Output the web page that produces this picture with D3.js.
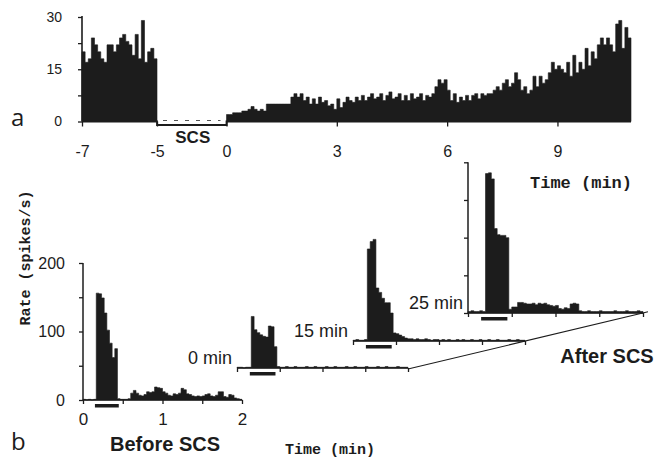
<!DOCTYPE html>
<html>
<head>
<meta charset="utf-8">
<script src="https://cdn.jsdelivr.net/npm/d3@7"></script>
<style>
  body { margin: 0; background: #fff; }
  svg { display: block; }
</style>
</head>
<body>
<svg id="fig" width="670" height="461"></svg>
<script>
// ---------- panel a: long recording, 5-s bins (spikes/s) ----------
const preScsRate = [20, 17, 18, 24, 22, 20, 18, 17, 22, 22, 20, 22,
                    24, 25, 23, 22, 19, 25, 18, 29, 17, 20, 21, 18];
const postScsRate = [
  2, 2, 2.5,
  2.5, 2.5, 3, 3,
  3.5, 4.3,
  3.5, 3, 3.5, 3,
  5, 5, 5, 5, 5, 5, 5, 5,
  7, 8, 7, 8, 6, 7,
  5, 6.5, 5, 7, 5.5, 6, 4.5, 5, 3.5,
  6.5, 4, 5.5, 7, 6, 5.5, 7, 6, 7.5, 6, 7,
  8, 6.5, 7, 8, 6, 7.5, 8.5, 6.5, 7, 8, 6, 7.5,
  6, 8, 6.5, 7, 8, 6, 7.5, 7, 8,
  10, 12, 11, 12, 9,
  6, 8, 5.5, 7, 6, 7.5, 6, 7.5, 8, 6.5, 8, 7.5,
  8, 8, 9, 10, 9, 11, 12, 10,
  11, 14, 12, 9,
  10, 8, 9, 13, 10,
  13, 11, 12, 14, 17, 15, 16,
  15, 14, 17, 13, 19, 14,
  17, 15, 21, 16, 20, 18,
  22, 24, 22, 24, 22,
  20, 28, 29, 21, 27, 24
];
const longBinMin = 5 / 60;
const preStart = -7;          // minutes
const scsStart = -5, scsEnd = 0, recordEnd = 11;
const topYTicks = [0, 7.5, 15, 22.5, 30];
const topYLabels = [0, 15, 30];
const topXTicks = [-7, -5, 0, 3, 6, 9];

// ---------- panel b: responses to a stimulus, 2-s bins (spikes/s) ----------
const beforeRate = [1, 0, 1, 0, 1,
  156, 155, 149, 127, 102, 83, 62, 75,
  2, 1, 1, 1, 2,
  10, 14, 10, 7, 6, 8, 12, 11, 12, 19,
  18, 17, 12, 10, 7, 6, 9, 8, 10, 17,
  15, 9, 8, 6, 5, 6, 5, 6, 8, 9,
  6, 5, 7, 12, 12, 5, 4, 8, 7, 3,
  2, 1];
const after0Rate = [1, 1, 0, 1, 1,
  70, 52, 48, 45, 43, 42, 57, 56, 29,
  2, 1, 1, 2, 1, 1, 2, 1, 1, 1,
  2, 1, 1, 2, 1, 1, 1, 2, 1, 1,
  2, 1, 1, 1, 2, 1, 1, 2, 1, 1,
  1, 2, 1, 1, 1, 2, 1, 1, 2, 1,
  1, 1, 2, 1, 1, 1];
const after15Rate = [1, 2, 1, 1, 2,
  125, 135, 138, 72, 66, 58, 52, 52, 38,
  11, 10, 8, 6, 4, 3, 3, 2, 3, 2,
  2, 3, 2, 1, 2, 2, 1, 2, 1, 2,
  1, 1, 2, 1, 2, 1, 1, 2, 1, 1,
  2, 1, 1, 2, 1, 1, 2, 1, 1, 1,
  2, 1, 1, 2, 1, 1];
const after25Rate = [2, 3, 2, 2, 3, 2,
  185, 186, 178, 112, 104, 103, 103, 100,
  5,
  8, 8, 14, 14, 13, 12, 12, 13, 11, 13,
  12, 13, 11, 10, 9, 10, 6, 5, 7, 6,
  12, 13, 12, 3,
  2, 2, 3, 2, 2, 2, 3, 2, 2, 2,
  2, 3, 2, 2, 2, 3, 2, 2, 2, 3, 2];
const insetBinMin = 2 / 60;
const insetXTicks = [0, 0.5, 1, 1.5, 2];
const insetXLabels = [0, 1, 2];
const insetYTicks = [0, 50, 100, 150, 200];
const insetYLabels = [0, 100, 200];
const stimWindow = [0.15, 0.45];
const afterLabels = ["0 min", "15 min", "25 min"];

// ---------- drawing ----------
const INK = "#1c1c1c";
const SANS = "'Liberation Sans', Arial, Helvetica, sans-serif";
const MONO = "'Courier New', 'Liberation Mono', monospace";
const svg = d3.select("#fig");

function styleAxis(g) {
  g.selectAll("path.domain").remove();
  g.selectAll("line").attr("stroke", INK).attr("stroke-width", 1.3);
  g.selectAll("text").attr("fill", INK).attr("font-family", SANS);
}

// a histogram drawn as one filled step outline (no seams between bins)
function histPath(rates, t0, binW, x, y) {
  const pts = rates.map((v, i) => [t0 + i * binW, v]);
  pts.push([t0 + rates.length * binW, rates[rates.length - 1]]);
  return d3.area()
    .x(d => x(d[0])).y0(y(0)).y1(d => y(d[1]))
    .curve(d3.curveStepAfter)(pts);
}

// ----- panel a -----
const xa = d3.scaleLinear()
  .domain([preStart, scsStart, scsEnd, recordEnd])
  .range([82, 157, 226.5, 631]);
const ya = d3.scaleLinear().domain([0, 30]).range([121.5, 17]);

svg.append("path").attr("d", histPath(preScsRate, preStart, longBinMin, xa, ya))
  .attr("fill", INK).attr("stroke", INK).attr("stroke-width", 0.6);
svg.append("path").attr("d", histPath(postScsRate, scsEnd, longBinMin, xa, ya))
  .attr("fill", INK).attr("stroke", INK).attr("stroke-width", 0.6);

const ayA = svg.append("g").attr("transform", `translate(${xa(preStart)},0)`)
  .call(d3.axisLeft(ya).tickValues(topYTicks).tickSize(4).tickPadding(16)
    .tickFormat(d => topYLabels.includes(d) ? d : ""));
styleAxis(ayA);
ayA.selectAll("text").attr("font-size", 14);
svg.append("line")
  .attr("x1", xa(preStart)).attr("x2", xa(preStart))
  .attr("y1", ya(0)).attr("y2", ya(30) - 1)
  .attr("stroke", INK).attr("stroke-width", 1.6);

const axA = svg.append("g").attr("transform", `translate(0,${ya(0)})`)
  .call(d3.axisBottom(xa).tickValues(topXTicks).tickSize(5).tickPadding(19)
    .tickFormat(d => d < 0 ? "-" + Math.abs(d) : d));
styleAxis(axA);
axA.selectAll("text").attr("font-size", 16);

// baseline, with the stimulation period drawn as a separate lowered segment
const scsY = ya(0) + 3.5;
svg.append("path")
  .attr("d", d3.line()([[xa(preStart), ya(0)], [xa(scsStart), ya(0)], [xa(scsStart), scsY],
                        [xa(scsEnd), scsY], [xa(scsEnd), ya(0)], [xa(recordEnd), ya(0)]]))
  .attr("fill", "none").attr("stroke", INK).attr("stroke-width", 1.8);
svg.append("line")
  .attr("x1", xa(scsStart) + 6).attr("x2", xa(scsEnd) - 6)
  .attr("y1", ya(0) - 1).attr("y2", ya(0) - 1)
  .attr("stroke", "#555").attr("stroke-width", 1.1).attr("stroke-dasharray", "4,7");

svg.append("text").text("SCS")
  .attr("x", (xa(scsStart) + xa(scsEnd)) / 2 + 1).attr("y", 143)
  .attr("text-anchor", "middle").attr("font-family", SANS)
  .attr("font-weight", "bold").attr("font-size", 17).attr("fill", INK);

svg.append("text").text("a").attr("x", 11).attr("y", 126)
  .attr("font-family", "'Open Sans', sans-serif").attr("font-size", 24).attr("fill", INK);

svg.append("text").text("Time (min)").attr("x", 581).attr("y", 188)
  .attr("text-anchor", "middle").attr("font-family", MONO)
  .attr("font-weight", "bold").attr("font-size", 17).attr("fill", INK);

// ----- panel b -----
const panels = [
  { rate: beforeRate,  x0: 83,  x1: 242, base: 400, k: 1.0,   yAxis: true,  xLabels: true },
  { rate: after0Rate,  x0: 237, x1: 408, base: 368, k: 1.075, yAxis: false, xLabels: false, name: afterLabels[0] },
  { rate: after15Rate, x0: 353, x1: 525, base: 341, k: 1.075, yAxis: false, xLabels: false, name: afterLabels[1] },
  { rate: after25Rate, x0: 468, x1: 643, base: 313, k: 1.1,   yAxis: true,  xLabels: false, name: afterLabels[2] }
];

panels.forEach((p, pi) => {
  const x = d3.scaleLinear().domain([0, 2]).range([p.x0, p.x1]);
  const y = d3.scaleLinear().domain([0, 200]).range([p.base, p.base - 137 * p.k]);
  const g = svg.append("g");

  g.append("path").attr("d", histPath(p.rate, 0, insetBinMin, x, y))
    .attr("fill", INK).attr("stroke", INK).attr("stroke-width", 0.6);

  const ax = g.append("g").attr("transform", `translate(0,${p.base})`)
    .call(d3.axisBottom(x).tickValues(insetXTicks).tickSize(4).tickPadding(9)
      .tickFormat(d => p.xLabels && insetXLabels.includes(d) ? d : ""));
  styleAxis(ax);
  ax.selectAll("text").attr("font-size", 17);
  g.append("line").attr("x1", p.x0).attr("x2", p.x1)
    .attr("y1", p.base).attr("y2", p.base)
    .attr("stroke", INK).attr("stroke-width", 1.5);

  if (p.yAxis) {
    const ay = g.append("g").attr("transform", `translate(${p.x0},0)`)
      .call(d3.axisLeft(y).tickValues(insetYTicks).tickSize(4).tickPadding(14)
        .tickFormat(d => pi === 0 && insetYLabels.includes(d) ? d : ""));
    styleAxis(ay);
    ay.selectAll("text").attr("font-size", 16);
    g.append("line").attr("x1", p.x0).attr("x2", p.x0)
      .attr("y1", p.base).attr("y2", y(200))
      .attr("stroke", INK).attr("stroke-width", 1.5);
  }

  // stimulus marker under the axis
  g.append("rect")
    .attr("x", x(stimWindow[0])).attr("width", x(stimWindow[1]) - x(stimWindow[0]))
    .attr("y", p.base + 4).attr("height", 3.5).attr("fill", INK);

  if (p.name) {
    g.append("text").text(p.name)
      .attr("x", p.x0 - 5).attr("y", p.base - 4)
      .attr("text-anchor", "end").attr("font-family", SANS)
      .attr("font-size", 18).attr("fill", INK);
  }
});

// perspective line joining the ends of the post-stimulation time axes
const pA = panels[1], pB = panels[3];
const slope = (pB.base - pA.base) / (pB.x1 - pA.x1);
svg.append("line")
  .attr("x1", pA.x1).attr("y1", pA.base + 1)
  .attr("x2", pB.x1 + 5).attr("y2", pB.base + slope * 5)
  .attr("stroke", INK).attr("stroke-width", 1.1);

svg.append("text").text("Rate (spikes/s)")
  .attr("transform", "translate(30,258) rotate(-90)")
  .attr("text-anchor", "middle").attr("font-family", MONO)
  .attr("font-weight", "bold").attr("font-size", 15).attr("fill", INK);

svg.append("text").text("Before SCS").attr("x", 165).attr("y", 451)
  .attr("text-anchor", "middle").attr("font-family", SANS)
  .attr("font-weight", "bold").attr("font-size", 20).attr("fill", INK);

svg.append("text").text("After SCS").attr("x", 607).attr("y", 363)
  .attr("text-anchor", "middle").attr("font-family", SANS)
  .attr("font-weight", "bold").attr("font-size", 20).attr("fill", INK);

svg.append("text").text("Time (min)").attr("x", 330).attr("y", 454)
  .attr("text-anchor", "middle").attr("font-family", MONO)
  .attr("font-weight", "bold").attr("font-size", 15).attr("fill", INK);

svg.append("text").text("b").attr("x", 11).attr("y", 450)
  .attr("font-family", "'Open Sans', sans-serif").attr("font-size", 24).attr("fill", INK);
</script>
</body>
</html>
